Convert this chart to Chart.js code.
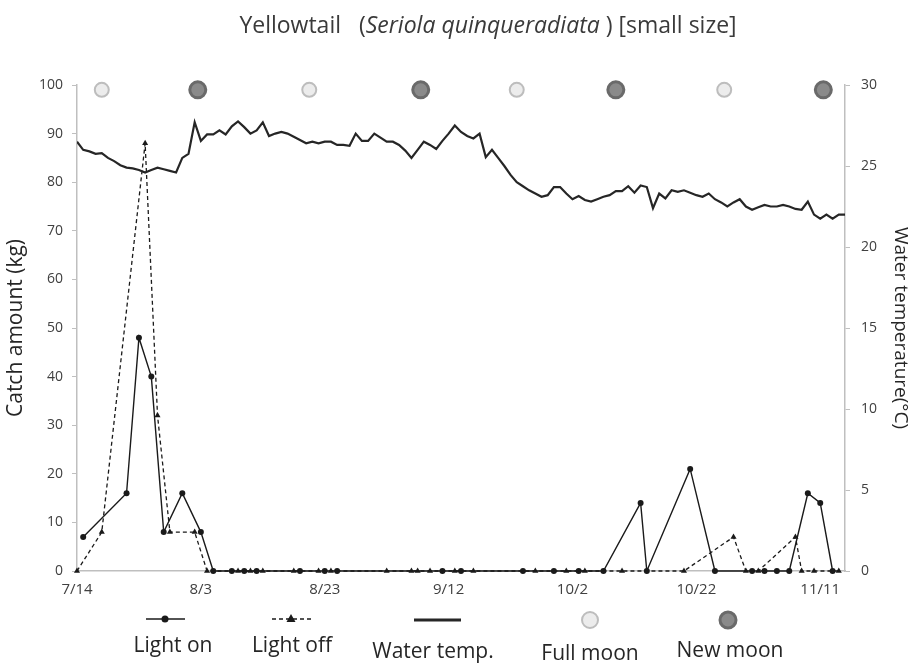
<!DOCTYPE html>
<html>
<head>
<meta charset="utf-8">
<script src="https://cdn.jsdelivr.net/npm/chart.js@4"></script>
<style>
  body { margin: 0; background: #fff; }
  #wrap { width: 913px; height: 670px; }
</style>
</head>
<body>
<div id="wrap"><canvas id="catchChart" width="913" height="670"></canvas></div>
<script>
// days counted from 7/14
let tickDays = [0, 20, 40, 60, 80, 100, 120];
let tickLabels = ['7/14', '8/3', '8/23', '9/12', '10/2', '10/22', '11/11'];

let lightOnDays  = [1, 8, 10, 12, 14, 17, 20, 22, 25, 27, 29, 36, 40, 42, 59, 62, 72, 77, 81, 85, 91, 92, 99, 103, 109, 111, 113, 115, 118, 120, 122];
let lightOnCatch = [7, 16, 48, 40, 8, 16, 8, 0, 0, 0, 0, 0, 0, 0, 0, 0, 0, 0, 0, 0, 14, 0, 21, 0, 0, 0, 0, 0, 16, 14, 0];

let lightOffDays  = [0, 4, 11, 13, 15, 19, 21, 26, 28, 30, 35, 39, 41, 50, 54, 55, 57, 61, 64, 74, 79, 82, 88, 98, 106, 108, 110, 116, 117, 119, 123];
let lightOffCatch = [0, 8, 88, 32, 8, 8, 0, 0, 0, 0, 0, 0, 0, 0, 0, 0, 0, 0, 0, 0, 0, 0, 0, 0, 7, 0, 0, 7, 0, 0, 0];

// daily water temperature, day 0 .. 124
let waterTemp = [
	26.5, 26.0, 25.9, 25.75, 25.8, 25.5, 25.3, 25.05, 24.9, 24.85,
	24.75, 24.6, 24.75, 24.9, 24.8, 24.7, 24.6, 25.5, 25.75, 27.7,
	26.55, 26.95, 26.95, 27.2, 26.95, 27.45, 27.75, 27.4, 27.0, 27.2,
	27.7, 26.85, 27.0, 27.1, 27.0, 26.8, 26.6, 26.4, 26.5, 26.4,
	26.5, 26.5, 26.3, 26.3, 26.25, 27.0, 26.55, 26.55, 27.0, 26.75,
	26.5, 26.5, 26.3, 25.95, 25.5, 26.0, 26.5, 26.3, 26.05, 26.55,
	27.0, 27.5, 27.1, 26.85, 26.7, 27.0, 25.55, 26.0, 25.5, 25.0,
	24.45, 24.0, 23.75, 23.5, 23.3, 23.1, 23.2, 23.7, 23.7, 23.3,
	22.95, 23.15, 22.9, 22.8, 22.95, 23.1, 23.2, 23.45, 23.45, 23.75,
	23.35, 23.8, 23.7, 22.4, 23.3, 23.0, 23.5, 23.4, 23.5, 23.35,
	23.2, 23.1, 23.3, 22.95, 22.75, 22.5, 22.75, 22.95, 22.5, 22.3,
	22.45, 22.6, 22.5, 22.5, 22.6, 22.5, 22.35, 22.3, 22.8, 22.0,
	21.75, 22.0, 21.75, 22.0, 22.0
];

let fullMoonDays = [4, 37.5, 71, 104.5];
let newMoonDays  = [19.5, 55.5, 87, 120.5];
let moonLevel = 99;

let legendLabels = ['Light on', 'Light off', 'Water temp.', 'Full moon', 'New moon'];

let FONT = '"Open Sans", "DejaVu Sans", sans-serif';

let titlePlugin = {
	id : 'mixedTitle',
	afterDraw : function(chart) {
		let ctx = chart.ctx;
		let parts = [
			['Yellowtail   (', 'normal'],
			['Seriola quinqueradiata', 'italic'],
			[' ) [small size]', 'normal']
		];
		ctx.save();
		ctx.fillStyle = '#3a3a3a';
		ctx.textBaseline = 'middle';
		let total = 0;
		parts.forEach(function(p) {
			ctx.font = p[1] + ' 23px ' + FONT;
			total += ctx.measureText(p[0]).width;
		});
		let x = 488 - total / 2;
		parts.forEach(function(p) {
			ctx.font = p[1] + ' 23px ' + FONT;
			ctx.fillText(p[0], x, 26);
			x += ctx.measureText(p[0]).width;
		});
		ctx.restore();
	}
};

let legendPlugin = {
	id : 'bottomLegend',
	afterDraw : function(chart) {
		let ctx = chart.ctx;
		let my = 619;
		ctx.save();
		// light on
		ctx.strokeStyle = '#1a1a1a';
		ctx.lineWidth = 1.6;
		ctx.beginPath(); ctx.moveTo(146, my); ctx.lineTo(185, my); ctx.stroke();
		ctx.fillStyle = '#1a1a1a';
		ctx.beginPath(); ctx.arc(165, my, 3.5, 0, Math.PI * 2); ctx.fill();
		// light off
		ctx.setLineDash([4, 3]);
		ctx.beginPath(); ctx.moveTo(272, my); ctx.lineTo(311, my); ctx.stroke();
		ctx.setLineDash([]);
		ctx.beginPath(); ctx.moveTo(291, my - 5); ctx.lineTo(295.5, my + 3); ctx.lineTo(286.5, my + 3); ctx.closePath(); ctx.fill();
		// water temp
		ctx.strokeStyle = '#262626';
		ctx.lineWidth = 3;
		ctx.beginPath(); ctx.moveTo(414, my + 1); ctx.lineTo(461, my + 1); ctx.stroke();
		// full moon
		ctx.fillStyle = '#ececec';
		ctx.strokeStyle = '#bdbdbd';
		ctx.lineWidth = 2;
		ctx.beginPath(); ctx.arc(590, my + 1, 8, 0, Math.PI * 2); ctx.fill(); ctx.stroke();
		// new moon
		ctx.fillStyle = '#8a8a8a';
		ctx.strokeStyle = '#6a6a6a';
		ctx.lineWidth = 3;
		ctx.beginPath(); ctx.arc(728, my + 1, 8, 0, Math.PI * 2); ctx.fill(); ctx.stroke();

		ctx.fillStyle = '#262626';
		ctx.font = '21px ' + FONT;
		ctx.textAlign = 'center';
		ctx.textBaseline = 'middle';
		let xs = [173, 292, 433, 590, 730];
		let ys = [646, 646, 652, 654, 651];
		legendLabels.forEach(function(t, i) { ctx.fillText(t, xs[i], ys[i]); });
		ctx.restore();
	}
};

let ctx = document.getElementById('catchChart').getContext('2d');

let chart = new Chart(ctx, {
	type : 'line',
	data : {
		datasets : [
			{
				label           : 'Full moon',
				data            : fullMoonDays.map(function(d) { return { x : d, y : moonLevel }; }),
				showLine        : false,
				clip            : false,
				pointRadius     : 7,
				pointBackgroundColor : '#ececec',
				pointBorderColor : '#bdbdbd',
				pointBorderWidth : 2,
				yAxisID         : 'y'
			},
			{
				label           : 'New moon',
				data            : newMoonDays.map(function(d) { return { x : d, y : moonLevel }; }),
				showLine        : false,
				clip            : false,
				pointRadius     : 8,
				pointBackgroundColor : '#8a8a8a',
				pointBorderColor : '#6a6a6a',
				pointBorderWidth : 3,
				yAxisID         : 'y'
			},
			{
				label           : 'Water temp.',
				data            : waterTemp.map(function(t, i) { return { x : i, y : t }; }),
				borderColor     : '#262626',
				borderWidth     : 2.2,
				pointRadius     : 0,
				yAxisID         : 'y1'
			},
			{
				label           : 'Light off',
				data            : lightOffDays.map(function(d, i) { return { x : d, y : lightOffCatch[i] }; }),
				borderColor     : '#1a1a1a',
				borderWidth     : 1.3,
				borderDash      : [4, 3],
				clip            : false,
				pointStyle      : 'triangle',
				pointRadius     : 3.5,
				pointBackgroundColor : '#1a1a1a',
				pointBorderColor : '#1a1a1a',
				pointBorderWidth : 0,
				yAxisID         : 'y'
			},
			{
				label           : 'Light on',
				data            : lightOnDays.map(function(d, i) { return { x : d, y : lightOnCatch[i] }; }),
				borderColor     : '#1a1a1a',
				borderWidth     : 1.4,
				clip            : false,
				pointRadius     : 3,
				pointBackgroundColor : '#1a1a1a',
				pointBorderColor : '#1a1a1a',
				pointBorderWidth : 0,
				yAxisID         : 'y'
			}
		]
	},
	options : {
		responsive : false,
		animation  : false,
		layout     : { padding : { top : 85, left : 0, right : 0, bottom : 0 } },
		plugins    : {
			legend  : { display : false },
			tooltip : { enabled : false }
		},
		scales : {
			x : {
				type : 'linear',
				min  : 0,
				max  : 124,
				afterFit : function(s) { s.height = 99; },
				afterBuildTicks : function(s) { s.ticks = tickDays.map(function(v) { return { value : v }; }); },
				grid   : { display : false, drawTicks : false },
				border : { color : '#bfbfbf', width : 1.5 },
				ticks  : {
					color : '#404040',
					font  : { family : FONT, size : 15 },
					padding : 10,
					maxRotation : 0,
					callback : function(v) { return tickLabels[tickDays.indexOf(v)]; }
				}
			},
			y : {
				position : 'left',
				min : 0,
				max : 100,
				afterFit : function(s) { s.width = 77; },
				grid   : { drawOnChartArea : false, color : '#bfbfbf', tickLength : 5 },
				border : { color : '#bfbfbf', width : 1.5 },
				ticks  : { stepSize : 10, color : '#404040', font : { family : FONT, size : 14 }, padding : 9 },
				title  : {
					display : true,
					text : 'Catch amount (kg)',
					color : '#262626',
					font : { family : FONT, size : 21 },
					padding : { top : 3, bottom : 0 }
				}
			},
			y1 : {
				position : 'right',
				min : 0,
				max : 30,
				afterFit : function(s) { s.width = 68; },
				grid   : { drawOnChartArea : false, color : '#bfbfbf', tickLength : 5 },
				border : { color : '#bfbfbf', width : 1.5 },
				ticks  : { stepSize : 5, color : '#404040', font : { family : FONT, size : 14 }, padding : 11 },
				title  : {
					display : true,
					text : 'Water temperature(\u00B0C)',
					color : '#262626',
					font : { family : FONT, size : 19 },
					padding : { top : 1, bottom : 0 }
				}
			}
		}
	},
	plugins : [titlePlugin, legendPlugin]
});
</script>
</body>
</html>
